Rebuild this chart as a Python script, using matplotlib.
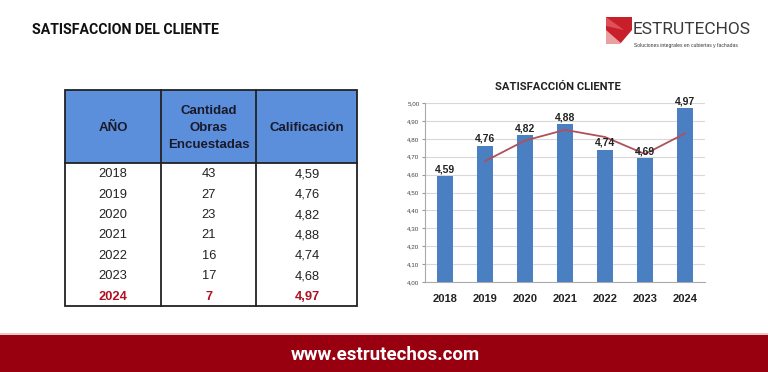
import matplotlib
matplotlib.use("Agg")
import matplotlib.pyplot as plt
import numpy as np
from matplotlib.patches import Rectangle, Polygon

W, H = 768, 372
years = ["2018", "2019", "2020", "2021", "2022", "2023", "2024"]
obras = [43, 27, 23, 21, 16, 17, 7]
calif = ["4,59", "4,76", "4,82", "4,88", "4,74", "4,68", "4,97"]
chart_values = [4.59, 4.76, 4.82, 4.88, 4.74, 4.69, 4.97]
headers = ["AÑO", "Cantidad\nObras\nEncuestadas", "Calificación"]
yticks = [4.0, 4.1, 4.2, 4.3, 4.4, 4.5, 4.6, 4.7, 4.8, 4.9, 5.0]

NARROW = ["Roboto", "DejaVu Sans"]
ARIAL = ["Liberation Sans", "DejaVu Sans"]

fig = plt.figure(figsize=(W / 100, H / 100), dpi=100)
fig.patch.set_facecolor("white")

def px_axes(x0, y0, x1, y1, **kw):
    return fig.add_axes([x0 / W, 1 - y1 / H, (x1 - x0) / W, (y1 - y0) / H], **kw)

bg = px_axes(0, 0, W, H)
bg.set_xlim(0, W)
bg.set_ylim(H, 0)
bg.axis("off")

bg.text(32, 30, "SATISFACCION DEL CLIENTE", fontsize=10.2, fontweight="bold",
        family=NARROW, color="#111111", va="center", ha="left")

# Logo
bg.add_patch(Polygon([[606, 17], [632, 17], [632, 44], [606, 44]], closed=True,
                     facecolor="#c8202a", edgecolor="none"))
bg.add_patch(Polygon([[606, 30], [622, 44], [606, 44]], closed=True,
                     facecolor="#e8a0a0", edgecolor="none"))
bg.add_patch(Polygon([[620, 44], [632, 30], [632, 44]], closed=True,
                     facecolor="#ffffff", edgecolor="none"))
bg.add_patch(Polygon([[606, 17], [624, 30], [606, 26]], closed=True,
                     facecolor="#e05058", edgecolor="none"))
bg.text(633, 29, "ESTRUTECHOS", fontsize=12.5, family=NARROW, color="#3a3a3a",
        va="center", ha="left")
bg.text(634, 45, "Soluciones integrales en cubiertas y fachadas", fontsize=3.6,
        family=ARIAL, color="#333333", va="center", ha="left")

# Footer
bg.add_patch(Rectangle((0, 333), W, 3, facecolor="#f3c6c6", edgecolor="none"))
bg.add_patch(Rectangle((0, 335), W, 37, facecolor="#980010", edgecolor="none"))
bg.text(385, 355, "www.estrutechos.com", fontsize=13.5, fontweight="bold",
        family=NARROW, color="white", va="center", ha="center")

# Table
cols = [65, 161, 256, 357]
top, head_bot, bot = 90, 163, 306
bg.add_patch(Rectangle((cols[0], top), cols[-1] - cols[0], head_bot - top,
                       facecolor="#5b8fdc", edgecolor="none"))
bg.add_patch(Rectangle((cols[0], top), cols[-1] - cols[0], bot - top,
                       facecolor="none", edgecolor="#222222", lw=1.3))
bg.plot([cols[0], cols[-1]], [head_bot, head_bot], color="#222222", lw=1.3)
for c in cols[1:-1]:
    bg.plot([c, c], [top, bot], color="#222222", lw=1.3)
hx = [(cols[i] + cols[i + 1]) / 2 for i in range(3)]
for i, h in enumerate(headers):
    bg.text(hx[i], 128, h, fontsize=9.5, fontweight="bold",
            family=ARIAL, color="#1a1a2a", ha="center", va="center", linespacing=1.6)
nrows = len(years)
rh = (bot - head_bot) / nrows
for r in range(nrows):
    y = head_bot + rh * (r + 0.5) + 1
    last = r == nrows - 1
    color = "#b01020" if last else "#222222"
    weight = "bold" if last else "normal"
    bg.text(113, y, years[r], fontsize=9.3, family=ARIAL, color=color,
            fontweight=weight, ha="center", va="center")
    bg.text(209, y, str(obras[r]), fontsize=9.3, family=ARIAL, color=color,
            fontweight=weight, ha="center", va="center")
    bg.text(307, y, calif[r], fontsize=9.3, family=ARIAL, color=color,
            fontweight=weight, ha="center", va="center")

# Chart
ax = px_axes(425, 103, 705, 282)
x = np.arange(len(years))
ax.bar(x, chart_values, width=0.4, color="#4a7fc1", zorder=3)
ma = np.convolve(chart_values, np.ones(2) / 2, mode="valid")
ax.plot(x[1:], ma, color="#b0505a", lw=1.3, zorder=4)
for xi, v in zip(x, chart_values):
    ax.text(xi, v + 0.012, f"{v:.2f}".replace(".", ","), ha="center", va="bottom",
            fontsize=7.5, fontweight="bold", family=ARIAL, color="#222222", zorder=5)
ax.set_ylim(4.0, 5.0)
ax.set_xlim(-0.5, len(years) - 0.5)
ax.set_yticks(yticks)
ax.set_yticklabels([f"{t:.2f}".replace(".", ",") for t in yticks], fontsize=4.5,
                   family=ARIAL, color="#444444")
ax.set_xticks(x)
ax.set_xticklabels(years, fontsize=8, fontweight="bold", family=ARIAL, color="#222222")
ax.tick_params(axis="x", length=0, pad=9)
ax.tick_params(axis="y", length=2, pad=2, color="#999999")
ax.grid(axis="y", color="#d8d8d8", lw=0.8, zorder=0)
for s in ["top", "right"]:
    ax.spines[s].set_visible(False)
ax.spines["left"].set_color("#aaaaaa")
ax.spines["bottom"].set_color("#aaaaaa")
ax.spines["left"].set_linewidth(0.8)
ax.spines["bottom"].set_linewidth(0.8)

bg.text(558, 87, "SATISFACCIÓN CLIENTE", fontsize=8.1, fontweight="bold",
        family=NARROW, color="#222222", ha="center", va="center")

fig.savefig("out.png", dpi=100, facecolor="white")
